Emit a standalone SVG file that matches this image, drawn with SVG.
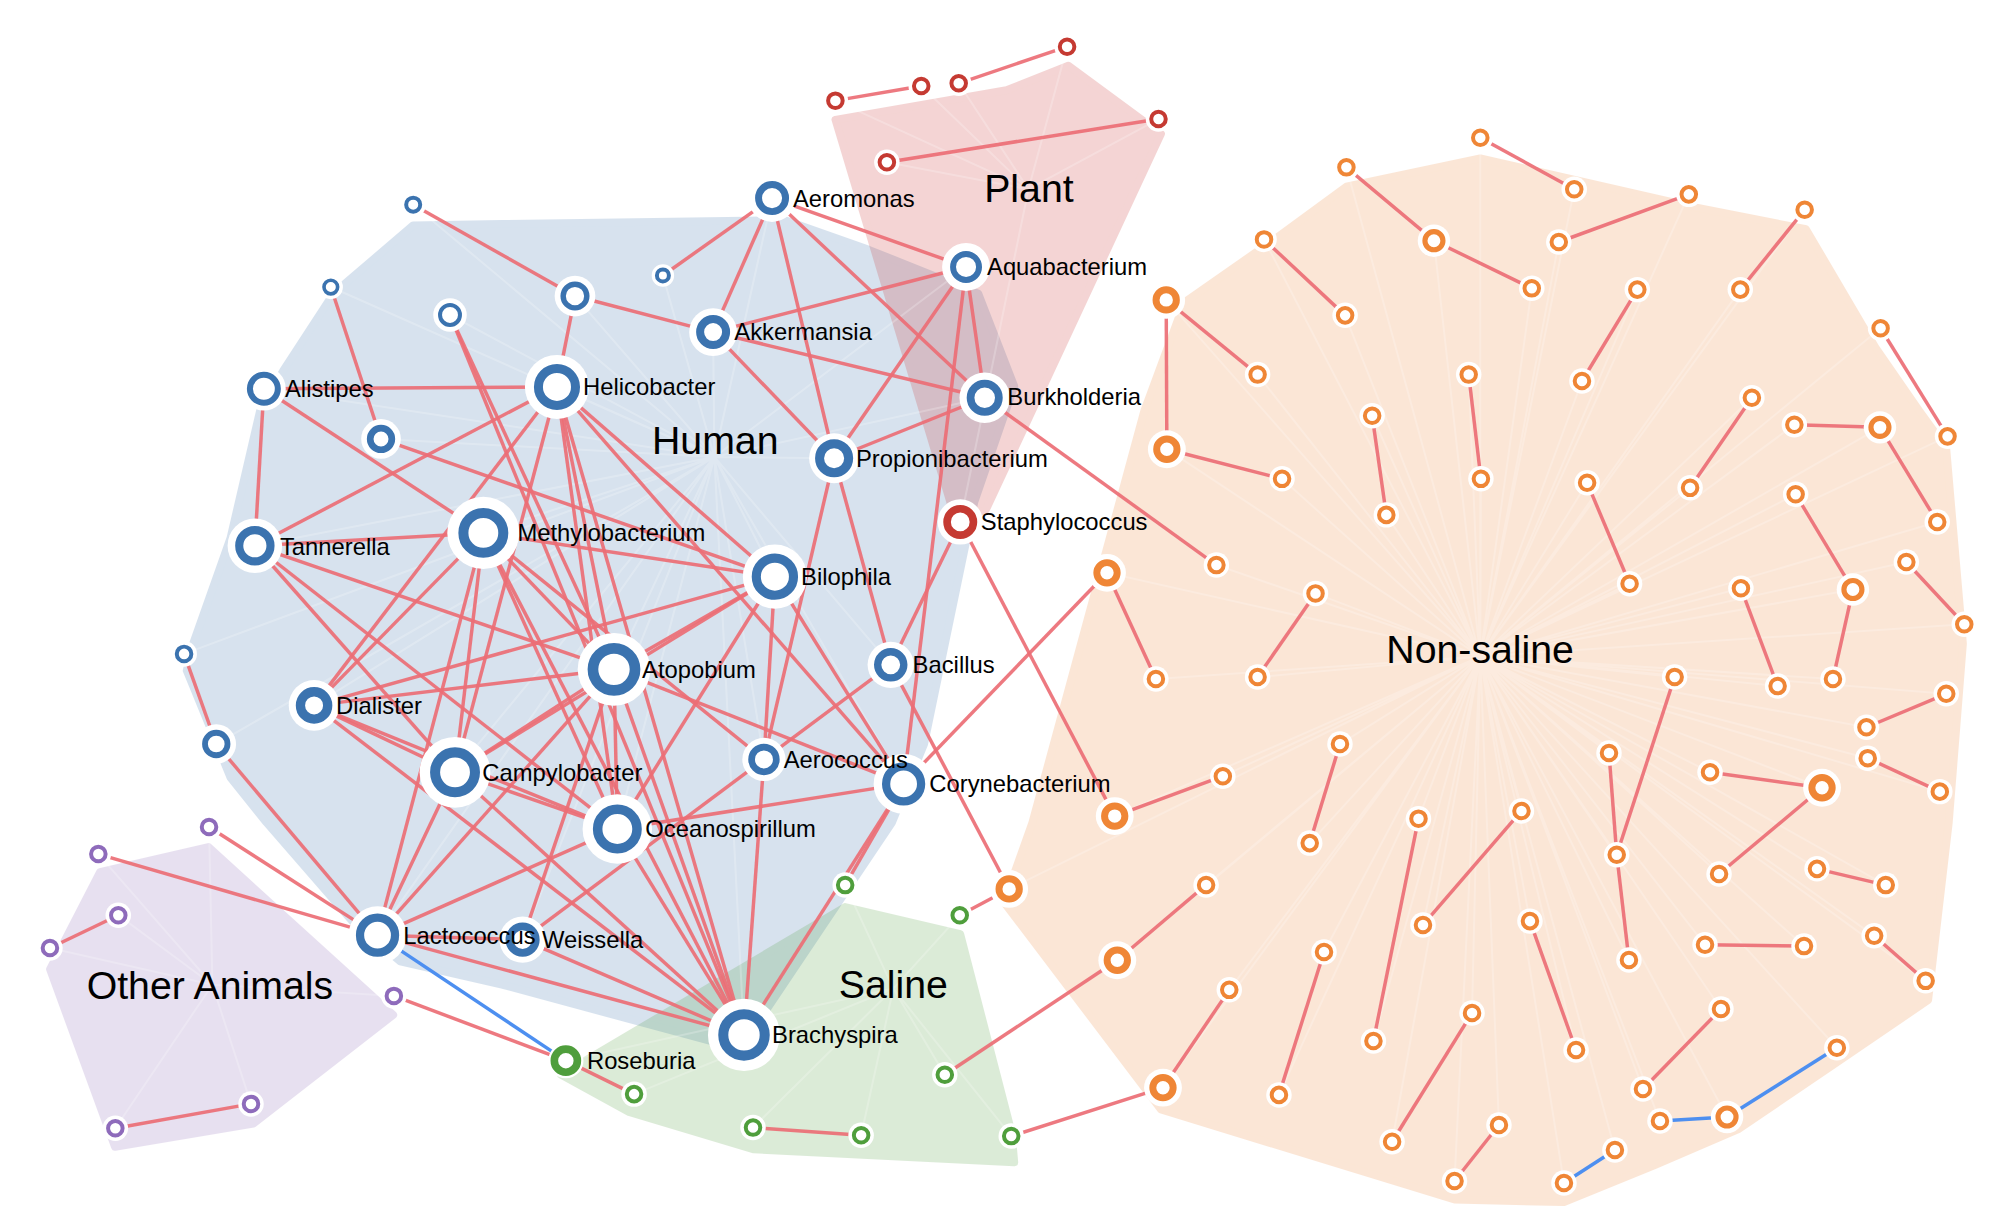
<svg xmlns="http://www.w3.org/2000/svg" width="2008" height="1232" viewBox="0 0 2008 1232">
<style>
.hull{stroke-width:6;stroke-linejoin:round}
.sp{stroke:#fff;stroke-opacity:.22;stroke-width:1.6;fill:none}
.e{stroke:#ec6e75;stroke-opacity:.92;stroke-width:2.7}
.eb{stroke:#4d8ff0;stroke-width:2.7}
.h{fill:#fff;stroke:none}
.r{fill:#fff}
.bl{stroke:#3b73af}
.or{stroke:#ef8636}
.rd{stroke:#c53a32}
.gr{stroke:#4f9e3c}
.pu{stroke:#8e6bbb}
text{font-family:"Liberation Sans",Arial,Helvetica,sans-serif;fill:#000}
.lbl{font-size:18.5px}
.cl{font-size:30.5px}
</style>
<defs>
<g id="s"><circle r="9.9" class="h"/><circle r="5.65" class="r" stroke-width="3.1"/></g>
<g id="m"><circle r="12.6" class="h"/><circle r="7" class="r" stroke-width="4"/></g>
<g id="l"><circle r="14.7" class="h"/><circle r="7.9" class="r" stroke-width="5.4"/></g>
</defs>
<rect width="2008" height="1232" fill="#fff"/>
<g transform="scale(1.2872)">
<g id="hulls">
<g id="hull-human" opacity="0.2"><polygon class="hull" fill="#3b73af" stroke="#3b73af" points="321,175 390,174 610,171 675,194 760,228 788,300 757,390 718,578 693,639 575,815 390,765 311,747 274,716 207,639 179,604 145,521 150,500 179,418 202,319 220,288 259,228"/></g>
<g id="hull-plant" opacity="0.2"><polygon class="hull" fill="#c9302c" stroke="#c9302c" points="649,93 782,70 830,51 902,104 766,396 752,402 740,396"/></g>
<g id="hull-saline" opacity="0.2"><polygon class="hull" fill="#519e3e" stroke="#519e3e" points="436,835 656.5,704.6 746,725.6 786,880 788,903 585.8,893 488.7,864"/></g>
<g id="hull-nonsaline" opacity="0.2"><polygon class="hull" fill="#ef8636" stroke="#ef8636" points="1046,145 1150,123 1317,161 1403,178 1457,270 1491,319 1512,348 1525,500 1514,639 1498,777 1426,826 1351,877 1286,905 1215,934 1130,932 902,862 780,701 802,639 889,319 920,235 990,186"/></g>
<g id="hull-other" opacity="0.2"><polygon class="hull" fill="#8d69b8" stroke="#8d69b8" points="161.9,658 77.7,677.5 38.8,753 89.3,891 196.8,873 305.5,788.5"/></g>
</g>
<g id="spokes">
<path class="sp" d="M555,355L321,159M555,355L257,223M555,355L515,214M555,355L349.6,244.7M555,355L446.7,230M555,355L296,341M555,355L143,508M555,355L168,578M555,355L599.8,153.9M555,355L750.5,207.4M555,355L554,258M555,355L205,302M555,355L432.7,300.6M555,355L765,309M555,355L648,356M555,355L198,424M555,355L375.5,414M555,355L602,448M555,355L692,516.5M555,355L477,520M555,355L244,548M555,355L353.5,600M555,355L593.5,590M555,355L702,609M555,355L479.6,644M555,355L293.3,726.5M555,355L406,730M555,355L578,804"/>
<path class="sp" d="M799,147L649,78.2M799,147L715.7,66.8M799,147L744.8,64.7M799,147L829,36.3M799,147L689,126M799,147L900,92.5M799,147L746,405.5"/>
<path class="sp" d="M694,768L656.6,687.6M694,768L745.6,711M694,768L734,835M694,768L492.6,850M694,768L585,876M694,768L669,882M694,768L785.6,882.6M694,768L439.6,824"/>
<path class="sp" d="M165,765L162.4,642.5M165,765L76.4,663.5M165,765L91.9,711M165,765L38.8,736.5M165,765L306,773.7M165,765L195,857.6M165,765L89.6,876.5"/>
<path class="sp" d="M1150,510L1150,107M1150,510L1223,147M1150,510L1046,130M1150,510L1114,187M1150,510L1190,224M1150,510L1312,151M1150,510L1211,188M1150,510L982,186M1150,510L1045,245M1150,510L906,233M1150,510L977,291M1150,510L906.5,349M1150,510L996,372M1150,510L1402,163M1150,510L1352,225M1150,510L1272,225M1150,510L1229,296M1150,510L1461,255M1150,510L1513,339M1150,510L1141,291M1150,510L1150.5,372M1150,510L1066,323M1150,510L1077,400M1150,510L1361,309M1150,510L1313,379M1150,510L1394,330M1150,510L1460.5,332M1150,510L1505,405.5M1150,510L1233,375M1150,510L1266,453.5M1150,510L1395,384M1150,510L1439.5,458M1150,510L1424,527.5M1150,510L945,439M1150,510L860,445M1150,510L898,527.5M1150,510L1022,461M1150,510L977,526M1150,510L1481,436.6M1150,510L1526,485M1150,510L1352.5,457M1150,510L1381,533M1150,510L1301,526M1150,510L1256,664M1150,510L1250,585M1150,510L1265.5,745.8M1150,510L1512,539M1150,510L1450,565M1150,510L1451,589M1150,510L1507,615M1150,510L1328.5,600M1150,510L1415.5,612M1150,510L1335.5,679M1150,510L950,603M1150,510L866,634M1150,510L1041,578M1150,510L1017.5,655M1150,510L1182,630M1150,510L1105.5,718.6M1150,510L1102,636M1150,510L1067,808.7M1150,510L937,687.5M1150,510L868,746M1150,510L784,690.6M1150,510L1411.6,675M1150,510L1465,687.6M1150,510L1456,727M1150,510L1496,762M1150,510L1324.6,734M1150,510L1401.5,735M1150,510L1188.6,715.6M1150,510L1224.4,815.7M1150,510L1028.6,739.6M1150,510L993.6,850.6M1150,510L955,769M1150,510L903.5,845M1150,510L1143.6,787M1150,510L1081.5,887M1150,510L1337,783.9M1150,510L1276.4,846M1150,510L1427,814M1150,510L1341.7,867.8M1150,510L1289.6,870.9M1150,510L1164.5,874M1150,510L1130,917.5M1150,510L1254.6,893.4M1150,510L1215,919"/>
</g>
<g id="connectors">
<line class="e" x1="599.8" y1="153.9" x2="515" y2="214"/>
<line class="e" x1="599.8" y1="153.9" x2="554" y2="258"/>
<line class="e" x1="599.8" y1="153.9" x2="648" y2="356"/>
<line class="e" x1="599.8" y1="153.9" x2="750.5" y2="207.4"/>
<line class="e" x1="599.8" y1="153.9" x2="765" y2="309"/>
<line class="e" x1="321" y1="159" x2="446.7" y2="230"/>
<line class="e" x1="446.7" y1="230" x2="554" y2="258"/>
<line class="e" x1="446.7" y1="230" x2="432.7" y2="300.6"/>
<line class="e" x1="554" y1="258" x2="750.5" y2="207.4"/>
<line class="e" x1="554" y1="258" x2="765" y2="309"/>
<line class="e" x1="554" y1="258" x2="648" y2="356"/>
<line class="e" x1="750.5" y1="207.4" x2="765" y2="309"/>
<line class="e" x1="750.5" y1="207.4" x2="648" y2="356"/>
<line class="e" x1="750.5" y1="207.4" x2="702" y2="609" stroke-opacity="0.7"/>
<line class="e" x1="765" y1="309" x2="648" y2="356"/>
<line class="e" x1="648" y1="356" x2="692" y2="516.5"/>
<line class="e" x1="648" y1="356" x2="593.5" y2="590"/>
<line class="e" x1="205" y1="302" x2="432.7" y2="300.6"/>
<line class="e" x1="205" y1="302" x2="198" y2="424"/>
<line class="e" x1="205" y1="302" x2="375.5" y2="414"/>
<line class="e" x1="257" y1="223" x2="296" y2="341"/>
<line class="e" x1="296" y1="341" x2="602" y2="448"/>
<line class="e" x1="349.6" y1="244.7" x2="477" y2="520"/>
<line class="e" x1="349.6" y1="244.7" x2="578" y2="804"/>
<line class="e" x1="432.7" y1="300.6" x2="198" y2="424"/>
<line class="e" x1="432.7" y1="300.6" x2="602" y2="448"/>
<line class="e" x1="432.7" y1="300.6" x2="353.5" y2="600"/>
<line class="e" x1="432.7" y1="300.6" x2="477" y2="520"/>
<line class="e" x1="432.7" y1="300.6" x2="479.6" y2="644"/>
<line class="e" x1="432.7" y1="300.6" x2="578" y2="804"/>
<line class="e" x1="432.7" y1="300.6" x2="702" y2="609"/>
<line class="e" x1="432.7" y1="300.6" x2="244" y2="548"/>
<line class="e" x1="198" y1="424" x2="375.5" y2="414"/>
<line class="e" x1="198" y1="424" x2="477" y2="520"/>
<line class="e" x1="198" y1="424" x2="479.6" y2="644"/>
<line class="e" x1="198" y1="424" x2="353.5" y2="600"/>
<line class="e" x1="375.5" y1="414" x2="602" y2="448"/>
<line class="e" x1="375.5" y1="414" x2="244" y2="548"/>
<line class="e" x1="375.5" y1="414" x2="353.5" y2="600"/>
<line class="e" x1="375.5" y1="414" x2="293.3" y2="726.5"/>
<line class="e" x1="375.5" y1="414" x2="479.6" y2="644"/>
<line class="e" x1="375.5" y1="414" x2="578" y2="804"/>
<line class="e" x1="375.5" y1="414" x2="477" y2="520"/>
<line class="e" x1="375.5" y1="414" x2="593.5" y2="590"/>
<line class="e" x1="602" y1="448" x2="244" y2="548"/>
<line class="e" x1="602" y1="448" x2="477" y2="520"/>
<line class="e" x1="602" y1="448" x2="353.5" y2="600"/>
<line class="e" x1="602" y1="448" x2="593.5" y2="590"/>
<line class="e" x1="602" y1="448" x2="479.6" y2="644"/>
<line class="e" x1="602" y1="448" x2="702" y2="609"/>
<line class="e" x1="746" y1="405.5" x2="692" y2="516.5"/>
<line class="e" x1="692" y1="516.5" x2="593.5" y2="590"/>
<line class="e" x1="692" y1="516.5" x2="784" y2="690.6"/>
<line class="e" x1="477" y1="520" x2="244" y2="548"/>
<line class="e" x1="477" y1="520" x2="353.5" y2="600"/>
<line class="e" x1="477" y1="520" x2="702" y2="609"/>
<line class="e" x1="477" y1="520" x2="479.6" y2="644"/>
<line class="e" x1="477" y1="520" x2="578" y2="804"/>
<line class="e" x1="477" y1="520" x2="293.3" y2="726.5"/>
<line class="e" x1="477" y1="520" x2="406" y2="730"/>
<line class="e" x1="244" y1="548" x2="353.5" y2="600"/>
<line class="e" x1="244" y1="548" x2="479.6" y2="644"/>
<line class="e" x1="244" y1="548" x2="578" y2="804"/>
<line class="e" x1="143" y1="508" x2="168" y2="578"/>
<line class="e" x1="168" y1="578" x2="293.3" y2="726.5"/>
<line class="e" x1="353.5" y1="600" x2="479.6" y2="644"/>
<line class="e" x1="353.5" y1="600" x2="578" y2="804"/>
<line class="e" x1="353.5" y1="600" x2="293.3" y2="726.5"/>
<line class="e" x1="593.5" y1="590" x2="406" y2="730"/>
<line class="e" x1="593.5" y1="590" x2="578" y2="804"/>
<line class="e" x1="702" y1="609" x2="479.6" y2="644"/>
<line class="e" x1="702" y1="609" x2="578" y2="804"/>
<line class="e" x1="702" y1="609" x2="860" y2="445"/>
<line class="e" x1="702" y1="609" x2="656.6" y2="687.6"/>
<line class="e" x1="479.6" y1="644" x2="293.3" y2="726.5"/>
<line class="e" x1="479.6" y1="644" x2="578" y2="804"/>
<line class="e" x1="293.3" y1="726.5" x2="406" y2="730"/>
<line class="e" x1="293.3" y1="726.5" x2="578" y2="804"/>
<line class="e" x1="406" y1="730" x2="578" y2="804"/>
<line class="e" x1="293.3" y1="726.5" x2="76.4" y2="663.5"/>
<line class="e" x1="293.3" y1="726.5" x2="162.4" y2="642.5"/>
<line class="e" x1="306" y1="773.7" x2="439.6" y2="824"/>
<line class="e" x1="765" y1="309" x2="945" y2="439"/>
<line class="e" x1="746" y1="405.5" x2="866" y2="634"/>
<line class="e" x1="439.6" y1="824" x2="492.6" y2="850"/>
<line class="e" x1="745.6" y1="711" x2="784" y2="690.6"/>
<line class="e" x1="734" y1="835" x2="868" y2="746"/>
<line class="e" x1="585" y1="876" x2="669" y2="882"/>
<line class="e" x1="785.6" y1="882.6" x2="903.5" y2="845"/>
<line class="e" x1="91.9" y1="711" x2="38.8" y2="736.5"/>
<line class="e" x1="195" y1="857.6" x2="89.6" y2="876.5"/>
<line class="eb" x1="293.3" y1="726.5" x2="439.6" y2="824"/>
<line class="e" x1="649" y1="78.2" x2="715.7" y2="66.8"/>
<line class="e" x1="744.8" y1="64.7" x2="829" y2="36.3"/>
<line class="e" x1="689" y1="126" x2="900" y2="92.5"/>
<line class="e" x1="1150" y1="107" x2="1223" y2="147"/>
<line class="e" x1="1046" y1="130" x2="1114" y2="187"/>
<line class="e" x1="1114" y1="187" x2="1190" y2="224"/>
<line class="e" x1="1312" y1="151" x2="1211" y2="188"/>
<line class="e" x1="982" y1="186" x2="1045" y2="245"/>
<line class="e" x1="906" y1="233" x2="977" y2="291"/>
<line class="e" x1="906" y1="233" x2="906.5" y2="349"/>
<line class="e" x1="906.5" y1="349" x2="996" y2="372"/>
<line class="e" x1="1402" y1="163" x2="1352" y2="225"/>
<line class="e" x1="1272" y1="225" x2="1229" y2="296"/>
<line class="e" x1="1461" y1="255" x2="1513" y2="339"/>
<line class="e" x1="1141" y1="291" x2="1150.5" y2="372"/>
<line class="e" x1="1066" y1="323" x2="1077" y2="400"/>
<line class="e" x1="1361" y1="309" x2="1313" y2="379"/>
<line class="e" x1="1394" y1="330" x2="1460.5" y2="332"/>
<line class="e" x1="1460.5" y1="332" x2="1505" y2="405.5"/>
<line class="e" x1="1233" y1="375" x2="1266" y2="453.5"/>
<line class="e" x1="1395" y1="384" x2="1439.5" y2="458"/>
<line class="e" x1="1439.5" y1="458" x2="1424" y2="527.5"/>
<line class="e" x1="860" y1="445" x2="898" y2="527.5"/>
<line class="e" x1="1022" y1="461" x2="977" y2="526"/>
<line class="e" x1="1481" y1="436.6" x2="1526" y2="485"/>
<line class="e" x1="1352.5" y1="457" x2="1381" y2="533"/>
<line class="e" x1="1301" y1="526" x2="1256" y2="664"/>
<line class="e" x1="1250" y1="585" x2="1256" y2="664"/>
<line class="e" x1="1256" y1="664" x2="1265.5" y2="745.8"/>
<line class="e" x1="1512" y1="539" x2="1450" y2="565"/>
<line class="e" x1="1451" y1="589" x2="1507" y2="615"/>
<line class="e" x1="1328.5" y1="600" x2="1415.5" y2="612"/>
<line class="e" x1="1415.5" y1="612" x2="1335.5" y2="679"/>
<line class="e" x1="950" y1="603" x2="866" y2="634"/>
<line class="e" x1="1041" y1="578" x2="1017.5" y2="655"/>
<line class="e" x1="1182" y1="630" x2="1105.5" y2="718.6"/>
<line class="e" x1="1102" y1="636" x2="1067" y2="808.7"/>
<line class="e" x1="937" y1="687.5" x2="868" y2="746"/>
<line class="e" x1="1411.6" y1="675" x2="1465" y2="687.6"/>
<line class="e" x1="1456" y1="727" x2="1496" y2="762"/>
<line class="e" x1="1324.6" y1="734" x2="1401.5" y2="735"/>
<line class="e" x1="1188.6" y1="715.6" x2="1224.4" y2="815.7"/>
<line class="e" x1="1028.6" y1="739.6" x2="993.6" y2="850.6"/>
<line class="e" x1="955" y1="769" x2="903.5" y2="845"/>
<line class="e" x1="1143.6" y1="787" x2="1081.5" y2="887"/>
<line class="e" x1="1337" y1="783.9" x2="1276.4" y2="846"/>
<line class="e" x1="1164.5" y1="874" x2="1130" y2="917.5"/>
<line class="eb" x1="1427" y1="814" x2="1341.7" y2="867.8"/>
<line class="eb" x1="1341.7" y1="867.8" x2="1289.6" y2="870.9"/>
<line class="eb" x1="1254.6" y1="893.4" x2="1215" y2="919"/>
</g>
<g id="nodes">
<g id="n-h1" class="node bl"><circle cx="321" cy="159" r="9.8" class="h"/><circle cx="321" cy="159" r="5.45" stroke-width="3.1" class="r"/></g>
<g id="n-h2" class="node bl"><circle cx="257" cy="223" r="9.4" class="h"/><circle cx="257" cy="223" r="5.3" stroke-width="2.8" class="r"/></g>
<g id="n-h3" class="node bl"><circle cx="515" cy="214" r="8.7" class="h"/><circle cx="515" cy="214" r="4.65" stroke-width="3.1" class="r"/></g>
<g id="n-h4" class="node bl"><circle cx="349.6" cy="244.7" r="13" class="h"/><circle cx="349.6" cy="244.7" r="7.75" stroke-width="3.1" class="r"/></g>
<g id="n-h5" class="node bl"><circle cx="446.7" cy="230" r="15.8" class="h"/><circle cx="446.7" cy="230" r="9.2" stroke-width="4.2" class="r"/></g>
<g id="n-h11" class="node bl"><circle cx="296" cy="341" r="15.4" class="h"/><circle cx="296" cy="341" r="8.4" stroke-width="5.2" class="r"/></g>
<g id="n-h17" class="node bl"><circle cx="143" cy="508" r="10" class="h"/><circle cx="143" cy="508" r="5.65" stroke-width="3.1" class="r"/></g>
<g id="n-h21" class="node bl"><circle cx="168" cy="578" r="15.4" class="h"/><circle cx="168" cy="578" r="8.75" stroke-width="4.5" class="r"/></g>
<g id="n-aeromonas" class="node bl"><circle cx="599.8" cy="153.9" r="18.5" class="h"/><circle cx="599.8" cy="153.9" r="10.5" stroke-width="5.4" class="r"/></g>
<g id="n-aquabacterium" class="node bl"><circle cx="750.5" cy="207.4" r="18.6" class="h"/><circle cx="750.5" cy="207.4" r="10.1" stroke-width="4.6" class="r"/></g>
<g id="n-akkermansia" class="node bl"><circle cx="554" cy="258" r="18.6" class="h"/><circle cx="554" cy="258" r="10.1" stroke-width="6.2" class="r"/></g>
<g id="n-alistipes" class="node bl"><circle cx="205" cy="302" r="17" class="h"/><circle cx="205" cy="302" r="10.85" stroke-width="4.7" class="r"/></g>
<g id="n-helicobacter" class="node bl"><circle cx="432.7" cy="300.6" r="24.9" class="h"/><circle cx="432.7" cy="300.6" r="14.4" stroke-width="7" class="r"/></g>
<g id="n-burkholderia" class="node bl"><circle cx="765" cy="309" r="19.6" class="h"/><circle cx="765" cy="309" r="11" stroke-width="6" class="r"/></g>
<g id="n-propionibacterium" class="node bl"><circle cx="648" cy="356" r="19.4" class="h"/><circle cx="648" cy="356" r="11.3" stroke-width="7" class="r"/></g>
<g id="n-tannerella" class="node bl"><circle cx="198" cy="424" r="21.2" class="h"/><circle cx="198" cy="424" r="12.15" stroke-width="6.3" class="r"/></g>
<g id="n-methylobacterium" class="node bl"><circle cx="375.5" cy="414" r="28" class="h"/><circle cx="375.5" cy="414" r="15.5" stroke-width="7.8" class="r"/></g>
<g id="n-bilophila" class="node bl"><circle cx="602" cy="448" r="24.9" class="h"/><circle cx="602" cy="448" r="14.45" stroke-width="7.1" class="r"/></g>
<g id="n-bacillus" class="node bl"><circle cx="692" cy="516.5" r="18" class="h"/><circle cx="692" cy="516.5" r="10.15" stroke-width="5.7" class="r"/></g>
<g id="n-atopobium" class="node bl"><circle cx="477" cy="520" r="28.2" class="h"/><circle cx="477" cy="520" r="16.35" stroke-width="8.3" class="r"/></g>
<g id="n-dialister" class="node bl"><circle cx="244" cy="548" r="19.7" class="h"/><circle cx="244" cy="548" r="10.6" stroke-width="7.2" class="r"/></g>
<g id="n-campylobacter" class="node bl"><circle cx="353.5" cy="600" r="27.5" class="h"/><circle cx="353.5" cy="600" r="15.5" stroke-width="7.8" class="r"/></g>
<g id="n-aerococcus" class="node bl"><circle cx="593.5" cy="590" r="16.8" class="h"/><circle cx="593.5" cy="590" r="9.6" stroke-width="5.2" class="r"/></g>
<g id="n-corynebacterium" class="node bl"><circle cx="702" cy="609" r="23.3" class="h"/><circle cx="702" cy="609" r="13.6" stroke-width="6.4" class="r"/></g>
<g id="n-oceanospirillum" class="node bl"><circle cx="479.6" cy="644" r="27" class="h"/><circle cx="479.6" cy="644" r="15.3" stroke-width="7.4" class="r"/></g>
<g id="n-lactococcus" class="node bl"><circle cx="293.3" cy="726.5" r="22.5" class="h"/><circle cx="293.3" cy="726.5" r="13.6" stroke-width="6.4" class="r"/></g>
<g id="n-weissella" class="node bl"><circle cx="406" cy="730" r="18" class="h"/><circle cx="406" cy="730" r="10.25" stroke-width="6" class="r"/></g>
<g id="n-brachyspira" class="node bl"><circle cx="578" cy="804" r="28" class="h"/><circle cx="578" cy="804" r="16.1" stroke-width="7.8" class="r"/></g>
<g id="n-staphylococcus" class="node rd"><circle cx="746" cy="405.5" r="17.6" class="h"/><circle cx="746" cy="405.5" r="10.25" stroke-width="5.9" class="r"/></g>
<g id="n-roseburia" class="node gr"><circle cx="439.6" cy="824" r="13.7" class="h"/><circle cx="439.6" cy="824" r="8.95" stroke-width="5.9" class="r"/></g>
<g id="n-r1" class="node rd"><use href="#s" x="649" y="78.2"/></g>
<g id="n-r2" class="node rd"><use href="#s" x="715.7" y="66.8"/></g>
<g id="n-r3" class="node rd"><use href="#s" x="744.8" y="64.7"/></g>
<g id="n-r4" class="node rd"><use href="#s" x="829" y="36.3"/></g>
<g id="n-r5" class="node rd"><use href="#s" x="689" y="126"/></g>
<g id="n-r6" class="node rd"><use href="#s" x="900" y="92.5"/></g>
<g id="n-g1" class="node gr"><use href="#s" x="656.6" y="687.6"/></g>
<g id="n-g2" class="node gr"><use href="#s" x="745.6" y="711"/></g>
<g id="n-g3" class="node gr"><use href="#s" x="734" y="835"/></g>
<g id="n-g4" class="node gr"><use href="#s" x="492.6" y="850"/></g>
<g id="n-g5" class="node gr"><use href="#s" x="585" y="876"/></g>
<g id="n-g6" class="node gr"><use href="#s" x="669" y="882"/></g>
<g id="n-g7" class="node gr"><use href="#s" x="785.6" y="882.6"/></g>
<g id="n-p1" class="node pu"><use href="#s" x="162.4" y="642.5"/></g>
<g id="n-p2" class="node pu"><use href="#s" x="76.4" y="663.5"/></g>
<g id="n-p3" class="node pu"><use href="#s" x="91.9" y="711"/></g>
<g id="n-p4" class="node pu"><use href="#s" x="38.8" y="736.5"/></g>
<g id="n-p5" class="node pu"><use href="#s" x="306" y="773.7"/></g>
<g id="n-p6" class="node pu"><use href="#s" x="195" y="857.6"/></g>
<g id="n-p7" class="node pu"><use href="#s" x="89.6" y="876.5"/></g>
<g id="n-o1" class="node or"><use href="#s" x="1150" y="107"/></g>
<g id="n-o2" class="node or"><use href="#s" x="1223" y="147"/></g>
<g id="n-o3" class="node or"><use href="#s" x="1046" y="130"/></g>
<g id="n-o4" class="node or"><use href="#m" x="1114" y="187"/></g>
<g id="n-o5" class="node or"><use href="#s" x="1190" y="224"/></g>
<g id="n-o6" class="node or"><use href="#s" x="1312" y="151"/></g>
<g id="n-o7" class="node or"><use href="#s" x="1211" y="188"/></g>
<g id="n-o8" class="node or"><use href="#s" x="982" y="186"/></g>
<g id="n-o9" class="node or"><use href="#s" x="1045" y="245"/></g>
<g id="n-o10" class="node or"><use href="#l" x="906" y="233"/></g>
<g id="n-o11" class="node or"><use href="#s" x="977" y="291"/></g>
<g id="n-o12" class="node or"><use href="#l" x="906.5" y="349"/></g>
<g id="n-o13" class="node or"><use href="#s" x="996" y="372"/></g>
<g id="n-o14" class="node or"><use href="#s" x="1402" y="163"/></g>
<g id="n-o15" class="node or"><use href="#s" x="1352" y="225"/></g>
<g id="n-o16" class="node or"><use href="#s" x="1272" y="225"/></g>
<g id="n-o17" class="node or"><use href="#s" x="1229" y="296"/></g>
<g id="n-o18" class="node or"><use href="#s" x="1461" y="255"/></g>
<g id="n-o19" class="node or"><use href="#s" x="1513" y="339"/></g>
<g id="n-o20" class="node or"><use href="#s" x="1141" y="291"/></g>
<g id="n-o21" class="node or"><use href="#s" x="1150.5" y="372"/></g>
<g id="n-o22" class="node or"><use href="#s" x="1066" y="323"/></g>
<g id="n-o23" class="node or"><use href="#s" x="1077" y="400"/></g>
<g id="n-o24" class="node or"><use href="#s" x="1361" y="309"/></g>
<g id="n-o25" class="node or"><use href="#s" x="1313" y="379"/></g>
<g id="n-o26" class="node or"><use href="#s" x="1394" y="330"/></g>
<g id="n-o27" class="node or"><use href="#m" x="1460.5" y="332"/></g>
<g id="n-o28" class="node or"><use href="#s" x="1505" y="405.5"/></g>
<g id="n-o29" class="node or"><use href="#s" x="1233" y="375"/></g>
<g id="n-o30" class="node or"><use href="#s" x="1266" y="453.5"/></g>
<g id="n-o31" class="node or"><use href="#s" x="1395" y="384"/></g>
<g id="n-o32" class="node or"><use href="#m" x="1439.5" y="458"/></g>
<g id="n-o33" class="node or"><use href="#s" x="1424" y="527.5"/></g>
<g id="n-o34" class="node or"><use href="#s" x="945" y="439"/></g>
<g id="n-o35" class="node or"><use href="#l" x="860" y="445"/></g>
<g id="n-o36" class="node or"><use href="#s" x="898" y="527.5"/></g>
<g id="n-o37" class="node or"><use href="#s" x="1022" y="461"/></g>
<g id="n-o38" class="node or"><use href="#s" x="977" y="526"/></g>
<g id="n-o39" class="node or"><use href="#s" x="1481" y="436.6"/></g>
<g id="n-o40" class="node or"><use href="#s" x="1526" y="485"/></g>
<g id="n-o41" class="node or"><use href="#s" x="1352.5" y="457"/></g>
<g id="n-o42" class="node or"><use href="#s" x="1381" y="533"/></g>
<g id="n-o43" class="node or"><use href="#s" x="1301" y="526"/></g>
<g id="n-o44" class="node or"><use href="#s" x="1256" y="664"/></g>
<g id="n-o45" class="node or"><use href="#s" x="1250" y="585"/></g>
<g id="n-o46" class="node or"><use href="#s" x="1265.5" y="745.8"/></g>
<g id="n-o47" class="node or"><use href="#s" x="1512" y="539"/></g>
<g id="n-o48" class="node or"><use href="#s" x="1450" y="565"/></g>
<g id="n-o49" class="node or"><use href="#s" x="1451" y="589"/></g>
<g id="n-o50" class="node or"><use href="#s" x="1507" y="615"/></g>
<g id="n-o51" class="node or"><use href="#s" x="1328.5" y="600"/></g>
<g id="n-o52" class="node or"><use href="#l" x="1415.5" y="612"/></g>
<g id="n-o53" class="node or"><use href="#s" x="1335.5" y="679"/></g>
<g id="n-o54" class="node or"><use href="#s" x="950" y="603"/></g>
<g id="n-o55" class="node or"><use href="#l" x="866" y="634"/></g>
<g id="n-o56" class="node or"><use href="#s" x="1041" y="578"/></g>
<g id="n-o57" class="node or"><use href="#s" x="1017.5" y="655"/></g>
<g id="n-o58" class="node or"><use href="#s" x="1182" y="630"/></g>
<g id="n-o59" class="node or"><use href="#s" x="1105.5" y="718.6"/></g>
<g id="n-o60" class="node or"><use href="#s" x="1102" y="636"/></g>
<g id="n-o61" class="node or"><use href="#s" x="1067" y="808.7"/></g>
<g id="n-o62" class="node or"><use href="#s" x="937" y="687.5"/></g>
<g id="n-o63" class="node or"><use href="#l" x="868" y="746"/></g>
<g id="n-o64" class="node or"><use href="#l" x="784" y="690.6"/></g>
<g id="n-o65" class="node or"><use href="#s" x="1411.6" y="675"/></g>
<g id="n-o66" class="node or"><use href="#s" x="1465" y="687.6"/></g>
<g id="n-o67" class="node or"><use href="#s" x="1456" y="727"/></g>
<g id="n-o68" class="node or"><use href="#s" x="1496" y="762"/></g>
<g id="n-o69" class="node or"><use href="#s" x="1324.6" y="734"/></g>
<g id="n-o70" class="node or"><use href="#s" x="1401.5" y="735"/></g>
<g id="n-o71" class="node or"><use href="#s" x="1188.6" y="715.6"/></g>
<g id="n-o72" class="node or"><use href="#s" x="1224.4" y="815.7"/></g>
<g id="n-o73" class="node or"><use href="#s" x="1028.6" y="739.6"/></g>
<g id="n-o74" class="node or"><use href="#s" x="993.6" y="850.6"/></g>
<g id="n-o75" class="node or"><use href="#s" x="955" y="769"/></g>
<g id="n-o76" class="node or"><use href="#l" x="903.5" y="845"/></g>
<g id="n-o77" class="node or"><use href="#s" x="1143.6" y="787"/></g>
<g id="n-o78" class="node or"><use href="#s" x="1081.5" y="887"/></g>
<g id="n-o79" class="node or"><use href="#s" x="1337" y="783.9"/></g>
<g id="n-o80" class="node or"><use href="#s" x="1276.4" y="846"/></g>
<g id="n-o81" class="node or"><use href="#s" x="1427" y="814"/></g>
<g id="n-o82" class="node or"><use href="#m" x="1341.7" y="867.8"/></g>
<g id="n-o83" class="node or"><use href="#s" x="1289.6" y="870.9"/></g>
<g id="n-o84" class="node or"><use href="#s" x="1164.5" y="874"/></g>
<g id="n-o85" class="node or"><use href="#s" x="1130" y="917.5"/></g>
<g id="n-o86" class="node or"><use href="#s" x="1254.6" y="893.4"/></g>
<g id="n-o87" class="node or"><use href="#s" x="1215" y="919"/></g>
</g>
<g id="labels">
<text class="lbl" x="616" y="160.5">Aeromonas</text>
<text class="lbl" x="766.8" y="214">Aquabacterium</text>
<text class="lbl" x="570.5" y="264.5">Akkermansia</text>
<text class="lbl" x="221.4" y="308.5">Alistipes</text>
<text class="lbl" x="453" y="307">Helicobacter</text>
<text class="lbl" x="782.6" y="315">Burkholderia</text>
<text class="lbl" x="665" y="362.5">Propionibacterium</text>
<text class="lbl" x="217.5" y="431">Tannerella</text>
<text class="lbl" x="402" y="420.5">Methylobacterium</text>
<text class="lbl" x="622.3" y="454.5">Bilophila</text>
<text class="lbl" x="762" y="412">Staphylococcus</text>
<text class="lbl" x="709" y="523">Bacillus</text>
<text class="lbl" x="498.8" y="526.5">Atopobium</text>
<text class="lbl" x="261" y="554.5">Dialister</text>
<text class="lbl" x="374.7" y="606.5">Campylobacter</text>
<text class="lbl" x="608.8" y="596.5">Aerococcus</text>
<text class="lbl" x="722" y="615.5">Corynebacterium</text>
<text class="lbl" x="501.3" y="650.5">Oceanospirillum</text>
<text class="lbl" x="313.3" y="733">Lactococcus</text>
<text class="lbl" x="421" y="736.5">Weissella</text>
<text class="lbl" x="599.8" y="810">Brachyspira</text>
<text class="lbl" x="456" y="830.5">Roseburia</text>
<text class="cl" x="506.5" y="353">Human</text>
<text class="cl" x="764.6" y="157">Plant</text>
<text class="cl" x="1077" y="515">Non-saline</text>
<text class="cl" x="651.6" y="775">Saline</text>
<text class="cl" x="67.3" y="776">Other Animals</text>
</g>
</g>
</svg>
